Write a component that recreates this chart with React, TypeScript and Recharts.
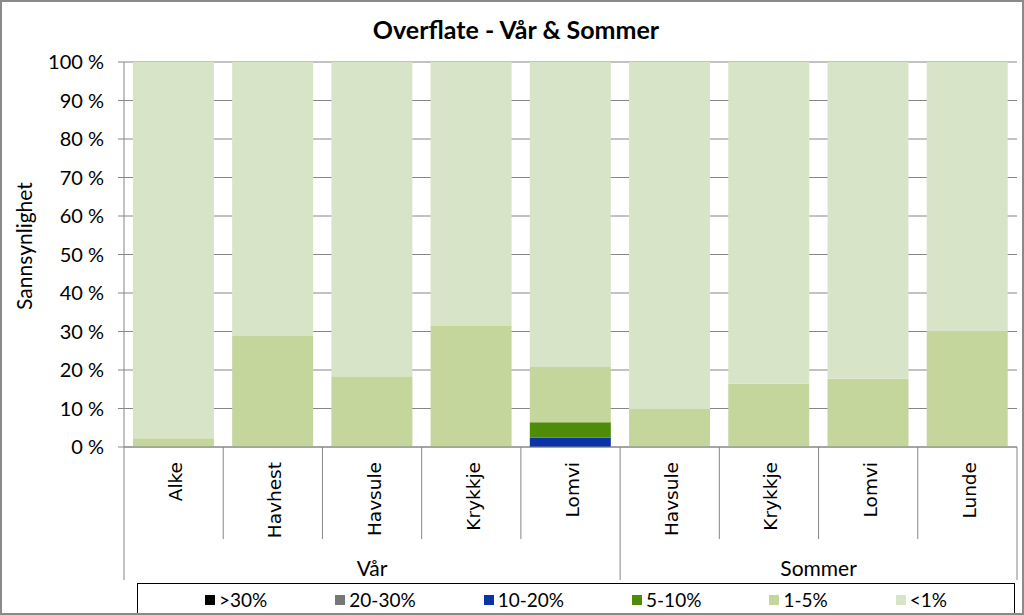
import React from 'react';
import { BarChart, Bar, XAxis, YAxis, CartesianGrid, Legend } from 'recharts';

const categories = ['Alke', 'Havhest', 'Havsule', 'Krykkje', 'Lomvi', 'Havsule', 'Krykkje', 'Lomvi', 'Lunde'];
const seasons = ['Vår', 'Vår', 'Vår', 'Vår', 'Vår', 'Sommer', 'Sommer', 'Sommer', 'Sommer'];

const over30 = [0, 0, 0, 0, 0, 0, 0, 0, 0];
const from20to30 = [0, 0, 0, 0, 0, 0, 0, 0, 0];
const from10to20 = [0, 0, 0, 0, 2.4, 0, 0, 0, 0];
const from5to10 = [0, 0, 0, 0, 4.0, 0, 0, 0, 0];
const from1to5 = [2.3, 28.8, 18.2, 31.4, 14.4, 9.9, 16.4, 17.7, 30.1];
const under1 = [97.7, 71.2, 81.8, 68.6, 79.2, 90.1, 83.6, 82.3, 69.9];

const yTicks = [0, 10, 20, 30, 40, 50, 60, 70, 80, 90, 100];

const series = [
  { key: 'a', name: '>30%', color: '#000000', values: over30 },
  { key: 'b', name: '20-30%', color: '#777777', values: from20to30 },
  { key: 'c', name: '10-20%', color: '#0a33a8', values: from10to20 },
  { key: 'd', name: '5-10%', color: '#4e8b06', values: from5to10 },
  { key: 'e', name: '1-5%', color: '#c4d69c', values: from1to5 },
  { key: 'f', name: '<1%', color: '#d8e4c8', values: under1 },
];

const data = categories.map((name, i) => {
  const row: any = { name, season: seasons[i] };
  series.forEach((s) => { row[s.key] = s.values[i]; });
  return row;
});

const W = 1024;
const H = 615;
const PLOT_LEFT = 124;
const PLOT_RIGHT = 1017;
const PLOT_TOP = 62;
const PLOT_BOTTOM = 447;
const BAND = (PLOT_RIGHT - PLOT_LEFT) / categories.length;
const AXIS_COLOR = '#868686';
const CALIBRI = 'Lato, "Open Sans", sans-serif';

const SpeciesTick = (props: any) => {
  const { x, index } = props;
  const left = x - BAND / 2;
  const groupStart = index === 0 || seasons[index] !== seasons[index - 1];
  const isLast = index === categories.length - 1;
  let groupLabel = null;
  if (groupStart) {
    let end = index;
    while (end + 1 < seasons.length && seasons[end + 1] === seasons[index]) end++;
    const cx = left + ((end - index + 1) * BAND) / 2;
    groupLabel = (
      <text x={cx} y={576} textAnchor="middle" fontSize={21} fontFamily={CALIBRI} fill="#000">
        {seasons[index]}
      </text>
    );
  }
  return (
    <g>
      <line x1={left} x2={left} y1={PLOT_BOTTOM} y2={groupStart ? 580 : 539} stroke={AXIS_COLOR} />
      {isLast && <line x1={left + BAND} x2={left + BAND} y1={PLOT_BOTTOM} y2={580} stroke={AXIS_COLOR} />}
      <text
        transform={`translate(${x + 8.5},${PLOT_BOTTOM + 15}) rotate(-90)`}
        textAnchor="end"
        fontSize={18.5}
        fontFamily='"DejaVu Sans", Verdana, sans-serif'
        fill="#000"
      >
        {categories[index]}
      </text>
      {groupLabel}
    </g>
  );
};

const LegendBox = () => (
  <div
    style={{
      boxSizing: 'border-box',
      width: '100%',
      height: '100%',
      border: '1px solid #000',
      background: '#fff',
      display: 'flex',
      justifyContent: 'center',
      alignItems: 'flex-start',
      paddingTop: 4,
      gap: 68,
      fontFamily: CALIBRI,
      fontSize: 19,
      color: '#000',
    }}
  >
    {series.map((s) => (
      <div key={s.key} style={{ display: 'flex', alignItems: 'center' }}>
        <span style={{ display: 'inline-block', width: 10, height: 10, background: s.color, marginRight: 4 }} />
        <span>{s.name}</span>
      </div>
    ))}
  </div>
);

export default function App() {
  return (
    <div
      style={{
        position: 'absolute',
        left: 0,
        top: 0,
        width: W,
        height: H,
        overflow: 'hidden',
        background: '#fff',
      }}
    >
      <BarChart
        width={W}
        height={H}
        data={data}
        margin={{ top: PLOT_TOP, right: W - PLOT_RIGHT, left: 0, bottom: 30 }}
        barCategoryGap="9%"
      >
        <text x={516} y={39} textAnchor="middle" fontSize={25} fontWeight="bold" fontFamily={CALIBRI} fill="#000">
          Overflate - Vår &amp; Sommer
        </text>
        <text
          transform="translate(32,246) rotate(-90)"
          textAnchor="middle"
          fontSize={21}
          fontFamily={CALIBRI}
          fill="#000"
        >
          Sannsynlighet
        </text>
        <CartesianGrid vertical={false} stroke={AXIS_COLOR} />
        <XAxis
          dataKey="name"
          height={138}
          interval={0}
          tickLine={false}
          axisLine={{ stroke: AXIS_COLOR }}
          tick={<SpeciesTick />}
        />
        <YAxis
          width={PLOT_LEFT}
          domain={[0, 100]}
          ticks={yTicks}
          tickFormatter={(v: number) => `${v} %`}
          tickSize={6}
          tickMargin={14}
          tickLine={{ stroke: AXIS_COLOR }}
          axisLine={{ stroke: AXIS_COLOR }}
          tick={{ fontSize: 20, fontFamily: CALIBRI, fill: '#000' }}
        />
        <Legend
          layout="horizontal"
          verticalAlign="middle"
          align="center"
          wrapperStyle={{ top: 583, left: 137, width: 878, height: 40 }}
          content={<LegendBox />}
        />
        {series.map((s) => (
          <Bar key={s.key} dataKey={s.key} name={s.name} stackId="p" fill={s.color} isAnimationActive={false} />
        ))}
      </BarChart>
      <div
        style={{
          position: 'absolute',
          left: 0,
          top: 0,
          width: W,
          height: H,
          boxSizing: 'border-box',
          border: '2px solid #8a8a8a',
          pointerEvents: 'none',
        }}
      />
    </div>
  );
}
